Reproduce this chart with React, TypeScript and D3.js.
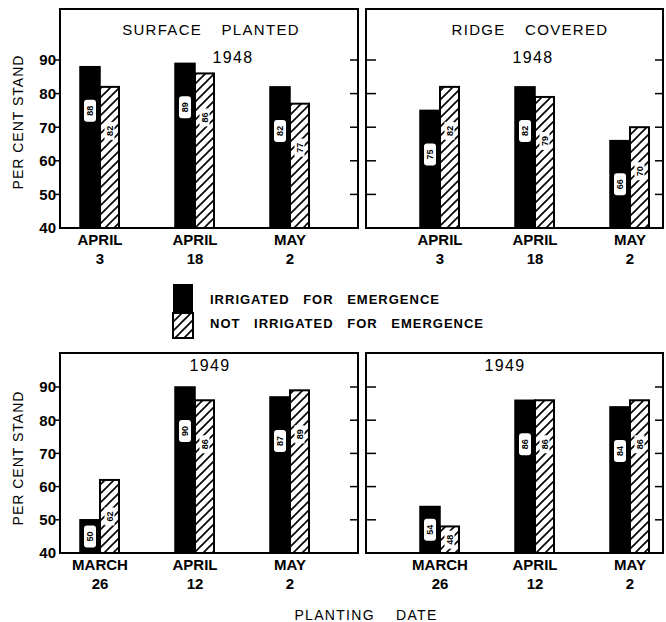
import React from "react";
import * as d3 from "d3";

// values (per cent stand)
const dates1948 = ["APRIL|3", "APRIL|18", "MAY|2"];
const dates1949 = ["MARCH|26", "APRIL|12", "MAY|2"];

const surface1948Irrigated = [88, 89, 82];
const surface1948NotIrrigated = [82, 86, 77];
const ridge1948Irrigated = [75, 82, 66];
const ridge1948NotIrrigated = [82, 79, 70];

const surface1949Irrigated = [50, 90, 87];
const surface1949NotIrrigated = [62, 86, 89];
const ridge1949Irrigated = [54, 86, 84];
const ridge1949NotIrrigated = [48, 86, 86];

const yTicks = [40, 50, 60, 70, 80, 90];

const font = "'Liberation Sans', Arial, sans-serif";

type PanelProps = {
  x0: number;
  x1: number;
  y0: number;
  y1: number;
  yTop: number; // pixel of 90
  side: "left" | "right";
  dates: string[];
  irrigated: number[];
  notIrrigated: number[];
  titles: { text: string; x: number; y: number; size: number }[];
  groupRange: [number, number];
};

const Panel = ({ x0, x1, y0, y1, yTop, side, dates, irrigated, notIrrigated, titles, groupRange }: PanelProps) => {
  const y = d3.scaleLinear().domain([40, 90]).range([y1, yTop]);
  const x = d3.scalePoint<string>().domain(dates).range(groupRange);
  const bw = 20;

  const labelY = (v: number) => {
    const top = y(v);
    return top + Math.min(44, (y1 - top) / 2);
  };

  return (
    <g>
      {/* frame */}
      <rect x={x0} y={y0} width={x1 - x0} height={y1 - y0} fill="none" stroke="#000" strokeWidth={2} />
      {/* ticks */}
      {yTicks.slice(1).map((t) => (
        <g key={t}>
          {side === "left" ? (
            <>
              <line x1={x0 - 5} x2={x0} y1={y(t)} y2={y(t)} stroke="#000" strokeWidth={1.5} />
              <line x1={x1 - 8} x2={x1} y1={y(t)} y2={y(t)} stroke="#000" strokeWidth={1.5} />
            </>
          ) : (
            <>
              <line x1={x0} x2={x0 + 10} y1={y(t)} y2={y(t)} stroke="#000" strokeWidth={1.5} />
              <line x1={x1 - 8} x2={x1} y1={y(t)} y2={y(t)} stroke="#000" strokeWidth={1.5} />
            </>
          )}
        </g>
      ))}
      {side === "left" &&
        yTicks.map((t) => (
          <text
            key={t}
            x={x0 - 4}
            y={y(t)}
            dy="0.36em"
            textAnchor="end"
            fontFamily={font}
            fontWeight="bold"
            fontSize={15}
          >
            {t}
          </text>
        ))}
      {titles.map((t) => (
        <text
          key={t.text}
          x={t.x}
          y={t.y}
          dy="0.35em"
          textAnchor="middle"
          fontFamily={font}
          fontSize={t.size}
          letterSpacing={1.3}
          wordSpacing={14}
        >
          {t.text}
        </text>
      ))}
      {dates.map((d, i) => {
        const cx = x(d) as number;
        const [m, day] = d.split("|");
        return (
          <g key={d}>
            <rect x={cx - bw} y={y(irrigated[i])} width={bw} height={y1 - y(irrigated[i])} fill="#000" stroke="#000" strokeWidth={1.5} />
            <rect x={cx} y={y(notIrrigated[i])} width={bw - 1} height={y1 - y(notIrrigated[i])} fill="url(#hatch)" stroke="#000" strokeWidth={2} />
            <g transform={`translate(${cx - bw / 2},${labelY(irrigated[i])})`}>
              <rect x={-6} y={-11} width={12} height={22} rx={3} fill="#fff" />
              <text transform="rotate(-90)" dy="0.35em" textAnchor="middle" fontFamily={font} fontWeight="bold" fontSize={9}>
                {irrigated[i]}
              </text>
            </g>
            <g transform={`translate(${cx + bw / 2 - 0.5},${labelY(notIrrigated[i])})`}>
              <rect x={-5} y={-9} width={10} height={18} fill="#fff" />
              <text transform="rotate(-90)" dy="0.35em" textAnchor="middle" fontFamily={font} fontWeight="bold" fontSize={9}>
                {notIrrigated[i]}
              </text>
            </g>
            <text x={cx} y={y1 + 17} textAnchor="middle" fontFamily={font} fontWeight="bold" fontSize={15}>
              {m}
            </text>
            <text x={cx} y={y1 + 36} textAnchor="middle" fontFamily={font} fontWeight="bold" fontSize={15}>
              {day}
            </text>
          </g>
        );
      })}
    </g>
  );
};

export default function App() {
  return (
    <svg width={666} height={622} style={{ position: "absolute", left: 0, top: 0, background: "#fff" }}>
      <defs>
        <pattern id="hatch" patternUnits="userSpaceOnUse" width={9} height={9}>
          <rect width={9} height={9} fill="#fff" />
          <path d="M-1,10 L10,-1 M-1,1 L1,-1 M8,10 L10,8" stroke="#000" strokeWidth={1.6} />
        </pattern>
      </defs>

      <Panel
        x0={60}
        x1={358}
        y0={9}
        y1={228}
        yTop={60}
        side="left"
        dates={dates1948}
        irrigated={surface1948Irrigated}
        notIrrigated={surface1948NotIrrigated}
        groupRange={[100, 290]}
        titles={[
          { text: "SURFACE PLANTED", x: 211, y: 30, size: 15 },
          { text: "1948", x: 233, y: 57, size: 16 },
        ]}
      />
      <Panel
        x0={366}
        x1={663}
        y0={9}
        y1={228}
        yTop={60}
        side="right"
        dates={dates1948}
        irrigated={ridge1948Irrigated}
        notIrrigated={ridge1948NotIrrigated}
        groupRange={[440, 630]}
        titles={[
          { text: "RIDGE COVERED", x: 530, y: 30, size: 15 },
          { text: "1948", x: 533, y: 57, size: 16 },
        ]}
      />
      <Panel
        x0={60}
        x1={358}
        y0={353}
        y1={553}
        yTop={387}
        side="left"
        dates={dates1949}
        irrigated={surface1949Irrigated}
        notIrrigated={surface1949NotIrrigated}
        groupRange={[100, 290]}
        titles={[{ text: "1949", x: 210, y: 365, size: 16 }]}
      />
      <Panel
        x0={366}
        x1={663}
        y0={353}
        y1={553}
        yTop={387}
        side="right"
        dates={dates1949}
        irrigated={ridge1949Irrigated}
        notIrrigated={ridge1949NotIrrigated}
        groupRange={[440, 630]}
        titles={[{ text: "1949", x: 505, y: 365, size: 16 }]}
      />

      {/* y axis titles */}
      {[122, 458].map((cy) => (
        <text
          key={cy}
          transform={`translate(23,${cy}) rotate(-90)`}
          textAnchor="middle"
          fontFamily={font}
          fontSize={14}
          letterSpacing={1}
        >
          PER CENT STAND
        </text>
      ))}

      {/* legend */}
      <rect x={173} y={284} width={20} height={29} fill="#000" />
      <rect x={173} y={313} width={20} height={25} fill="url(#hatch)" stroke="#000" strokeWidth={2} />
      <text x={210} y={299} dy="0.35em" fontFamily={font} fontWeight="bold" fontSize={13} letterSpacing={1} wordSpacing={9}>
        IRRIGATED FOR EMERGENCE
      </text>
      <text x={210} y={323} dy="0.35em" fontFamily={font} fontWeight="bold" fontSize={13} letterSpacing={1} wordSpacing={9}>
        NOT IRRIGATED FOR EMERGENCE
      </text>

      <text x={366} y={615} dy="0.35em" textAnchor="middle" fontFamily={font} fontSize={14} letterSpacing={1.3} wordSpacing={16}>
        PLANTING DATE
      </text>
    </svg>
  );
}
